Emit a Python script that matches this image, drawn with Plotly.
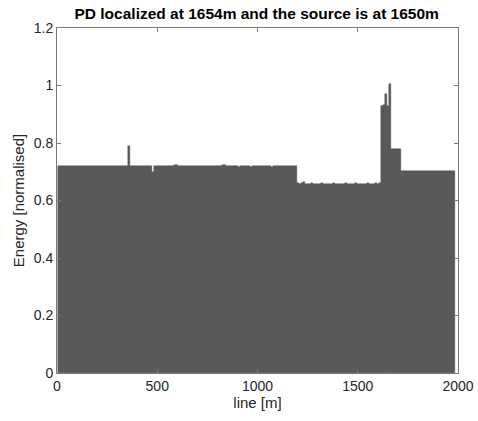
import plotly.graph_objects as go

# bar centres along the line [m]
positions = list(range(10, 1990, 10))

# normalised energy per bar
energy_a = [  # 10 .. 1190 m (119 bars)
    0.720, 0.721, 0.720, 0.719, 0.720, 0.721, 0.720, 0.720, 0.719, 0.720,
    0.721, 0.720, 0.720, 0.721, 0.720, 0.719, 0.720, 0.720, 0.721, 0.720,
    0.720, 0.719, 0.720, 0.721, 0.720, 0.720, 0.719, 0.720, 0.721, 0.720,
    0.720, 0.720, 0.719, 0.720, 0.721, 0.790, 0.720, 0.719, 0.720, 0.720,
    0.721, 0.720, 0.720, 0.719, 0.720, 0.720, 0.721, 0.700, 0.720, 0.720,
    0.719, 0.720, 0.721, 0.720, 0.720, 0.719, 0.720, 0.720, 0.722, 0.724,
    0.721, 0.720, 0.719, 0.720, 0.721, 0.720, 0.720, 0.719, 0.720, 0.721,
    0.720, 0.720, 0.719, 0.720, 0.721, 0.720, 0.720, 0.721, 0.720, 0.719,
    0.720, 0.720, 0.722, 0.725, 0.721, 0.720, 0.719, 0.720, 0.721, 0.720,
    0.716, 0.720, 0.719, 0.720, 0.721, 0.720, 0.718, 0.719, 0.720, 0.721,
    0.720, 0.720, 0.719, 0.720, 0.721, 0.720, 0.718, 0.719, 0.720, 0.721,
    0.720, 0.720, 0.719, 0.720, 0.721, 0.720, 0.720, 0.719, 0.720,
]
energy_b = [  # 1200 .. 1610 m (42 bars)
    0.660, 0.658, 0.662, 0.665, 0.658, 0.657, 0.659, 0.660, 0.658, 0.657,
    0.659, 0.658, 0.660, 0.657, 0.658, 0.659, 0.657, 0.658, 0.660, 0.658,
    0.657, 0.659, 0.658, 0.657, 0.660, 0.658, 0.659, 0.657, 0.658, 0.660,
    0.657, 0.658, 0.659, 0.658, 0.657, 0.660, 0.658, 0.657, 0.659, 0.660,
    0.658, 0.660,
]
energy_c = [0.930, 0.932, 0.970, 0.930, 1.005]          # 1620 .. 1660 m
energy_d = [0.778, 0.780, 0.778, 0.779, 0.778]          # 1670 .. 1710 m
energy_e = [  # 1720 .. 1980 m (27 bars)
    0.703, 0.702, 0.703, 0.702, 0.703, 0.702, 0.703, 0.702, 0.703, 0.702,
    0.703, 0.702, 0.703, 0.702, 0.703, 0.702, 0.703, 0.702, 0.703, 0.702,
    0.703, 0.702, 0.703, 0.702, 0.703, 0.702, 0.703,
]
energy = energy_a + energy_b + energy_c + energy_d + energy_e

x_ticks = [0, 500, 1000, 1500, 2000]
y_ticks = [0, 0.2, 0.4, 0.6, 0.8, 1.0, 1.2]
y_tick_text = ["0", "0.2", "0.4", "0.6", "0.8", "1", "1.2"]

fig = go.Figure()
fig.add_trace(go.Bar(
    x=positions, y=energy, width=10,
    marker=dict(color="#5a5a5a", line=dict(color="#444444", width=0.4)),
    showlegend=False,
))

axis_common = dict(
    showline=True, linecolor="#7a7a7a", linewidth=1, mirror="ticks",
    ticks="inside", ticklen=4, tickcolor="#7a7a7a",
    showgrid=False, zeroline=False, automargin=False,
    tickfont=dict(family="Liberation Sans, Arial", size=14, color="#262626"),
    title_font=dict(family="Liberation Sans, Arial", size=15, color="#262626"),
)

fig.update_layout(
    width=478, height=421,
    margin=dict(l=57, r=20, t=28, b=48),
    paper_bgcolor="white", plot_bgcolor="white",
    bargap=0,
    title=dict(text="<b>PD localized at 1654m and the source is at 1650m</b>",
               x=0.537, xanchor="center", y=0.967, yanchor="middle",
               font=dict(family="Liberation Sans, Arial", size=15.5, color="#000000")),
    xaxis=dict(range=[0, 2000], tickvals=x_ticks, title=dict(text="line [m]", standoff=1),
               **axis_common),
    yaxis=dict(range=[0, 1.2], tickvals=y_ticks, ticktext=y_tick_text,
               title=dict(text="Energy [normalised]", standoff=5), **axis_common),
)

fig.write_html("out.html")
